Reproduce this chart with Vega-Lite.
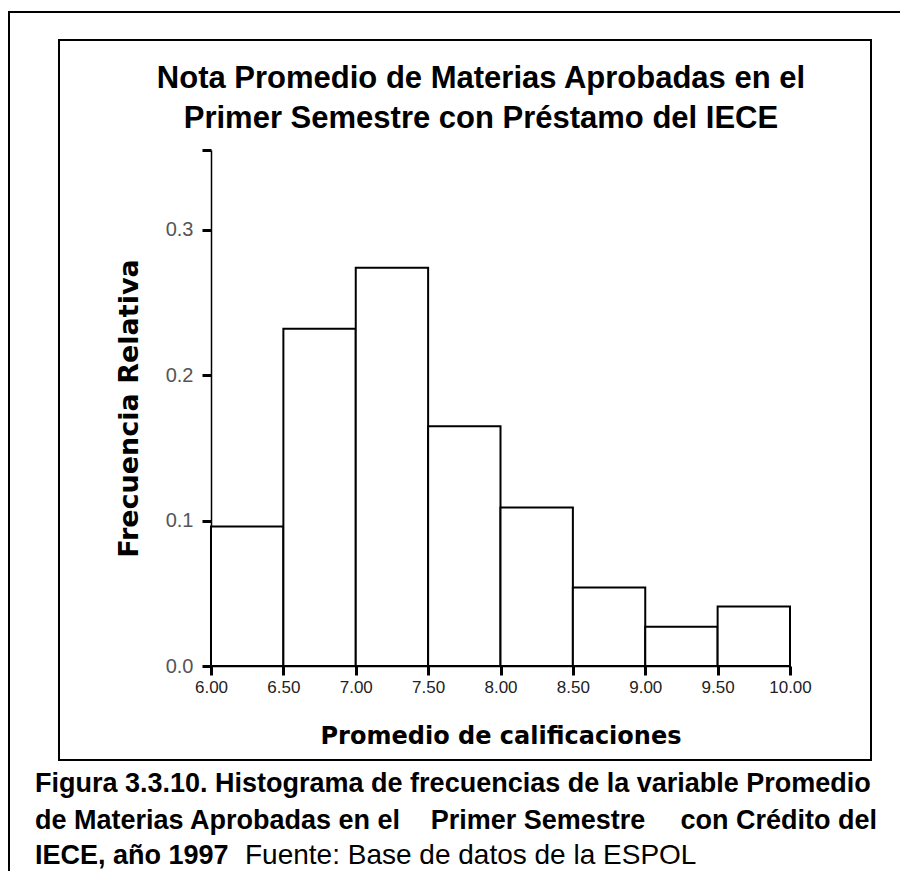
{
  "$schema": "https://vega.github.io/schema/vega-lite/v6.json",
  "width": 579,
  "height": 516,
  "autosize": {"type": "none"},
  "padding": {"left": 211, "top": 150, "right": 110, "bottom": 205},
  "background": "white",
  "config": {"view": {"stroke": null}, "font": "Liberation Sans"},
  "layer": [
    {
      "data": {"values": [{"frame": "outer"}]},
      "mark": {"type": "rect", "fill": null, "stroke": "black", "strokeWidth": 2},
      "encoding": {
        "x": {"datum": 4.6045, "type": "quantitative", "scale": {"domain": [6, 10], "nice": false, "zero": false}},
        "x2": {"datum": 14},
        "y": {"datum": 0.45, "type": "quantitative", "scale": {"domain": [0, 0.355], "nice": false, "zero": false}},
        "y2": {"datum": -0.6}
      }
    },
    {
      "data": {"values": [{"frame": "inner"}]},
      "mark": {"type": "rect", "fill": null, "stroke": "black", "strokeWidth": 2},
      "encoding": {
        "x": {"datum": 4.9499, "type": "quantitative"},
        "x2": {"datum": 10.5596},
        "y": {"datum": 0.4307, "type": "quantitative"},
        "y2": {"datum": -0.0647}
      }
    },
    {
      "data": {"values": [{"title": "Nota Promedio de Materias Aprobadas en el"}]},
      "mark": {"type": "text", "align": "center", "baseline": "alphabetic", "font": "Liberation Sans", "fontSize": 31, "fontWeight": "bold", "color": "black"},
      "encoding": {"text": {"field": "title"}, "x": {"datum": 7.865, "type": "quantitative"}, "y": {"datum": 0.3977, "type": "quantitative"}}
    },
    {
      "data": {"values": [{"title": "Primer Semestre con Préstamo del IECE"}]},
      "mark": {"type": "text", "align": "center", "baseline": "alphabetic", "font": "Liberation Sans", "fontSize": 31, "fontWeight": "bold", "color": "black"},
      "encoding": {"text": {"field": "title"}, "x": {"datum": 7.865, "type": "quantitative"}, "y": {"datum": 0.3701, "type": "quantitative"}}
    },
    {
      "data": {
        "values": [
          {"start": 6.0, "end": 6.5, "freq": 0.096},
          {"start": 6.5, "end": 7.0, "freq": 0.232},
          {"start": 7.0, "end": 7.5, "freq": 0.274},
          {"start": 7.5, "end": 8.0, "freq": 0.165},
          {"start": 8.0, "end": 8.5, "freq": 0.109},
          {"start": 8.5, "end": 9.0, "freq": 0.054},
          {"start": 9.0, "end": 9.5, "freq": 0.027},
          {"start": 9.5, "end": 10.0, "freq": 0.041}
        ]
      },
      "mark": {"type": "rect", "fill": "white", "stroke": "black", "strokeWidth": 2},
      "encoding": {
        "x": {
          "field": "start",
          "type": "quantitative",
          "axis": {
            "values": [6, 6.5, 7, 7.5, 8, 8.5, 9, 9.5, 10],
            "format": ".2f",
            "grid": false,
            "domainColor": "black",
            "domainWidth": 1.5,
            "tickColor": "black",
            "tickWidth": 3,
            "tickSize": 9,
            "labelFont": "Liberation Sans",
            "labelFontSize": 17,
            "labelColor": "#222",
            "labelPadding": 4,
            "labelFlush": false,
            "title": "Promedio de calificaciones",
            "titleFont": "DejaVu Sans",
            "titleFontSize": 24,
            "titleFontWeight": "bold",
            "titleColor": "black",
            "titlePadding": 29
          }
        },
        "x2": {"field": "end"},
        "y": {
          "field": "freq",
          "type": "quantitative",
          "axis": {
            "values": [0, 0.1, 0.2, 0.3, 0.355],
            "labelExpr": "datum.value > 0.31 ? '' : format(datum.value, '.1f')",
            "grid": false,
            "domainColor": "black",
            "domainWidth": 1.5,
            "tickColor": "black",
            "tickWidth": 3,
            "tickSize": 9,
            "labelFont": "Liberation Sans",
            "labelFontSize": 20,
            "labelColor": "#555",
            "labelPadding": 9,
            "labelFlush": false,
            "title": "Frecuencia Relativa",
            "titleFont": "DejaVu Sans",
            "titleFontSize": 27,
            "titleFontWeight": "bold",
            "titleColor": "black",
            "titlePadding": 22
          }
        },
        "y2": {"datum": 0}
      }
    },
    {
      "data": {"values": [{"caption": "Figura 3.3.10. Histograma de frecuencias de la variable Promedio"}]},
      "mark": {"type": "text", "align": "left", "baseline": "alphabetic", "font": "Liberation Sans", "fontSize": 27, "fontWeight": "bold", "color": "black"},
      "encoding": {"text": {"field": "caption"}, "x": {"datum": 4.7841, "type": "quantitative"}, "y": {"datum": -0.0867, "type": "quantitative"}}
    },
    {
      "data": {"values": [{"caption": "de Materias Aprobadas en el"}]},
      "mark": {"type": "text", "align": "left", "baseline": "alphabetic", "font": "Liberation Sans", "fontSize": 27, "fontWeight": "bold", "color": "black"},
      "encoding": {"text": {"field": "caption"}, "x": {"datum": 4.7841, "type": "quantitative"}, "y": {"datum": -0.1122, "type": "quantitative"}}
    },
    {
      "data": {"values": [{"caption": "Primer Semestre"}]},
      "mark": {"type": "text", "align": "center", "baseline": "alphabetic", "font": "Liberation Sans", "fontSize": 27, "fontWeight": "bold", "color": "black"},
      "encoding": {"text": {"field": "caption"}, "x": {"datum": 8.259, "type": "quantitative"}, "y": {"datum": -0.1122, "type": "quantitative"}}
    },
    {
      "data": {"values": [{"caption": "con Crédito del"}]},
      "mark": {"type": "text", "align": "right", "baseline": "alphabetic", "font": "Liberation Sans", "fontSize": 27, "fontWeight": "bold", "color": "black"},
      "encoding": {"text": {"field": "caption"}, "x": {"datum": 10.601, "type": "quantitative"}, "y": {"datum": -0.1122, "type": "quantitative"}}
    },
    {
      "data": {"values": [{"caption": "IECE, año 1997"}]},
      "mark": {"type": "text", "align": "left", "baseline": "alphabetic", "font": "Liberation Sans", "fontSize": 27, "fontWeight": "bold", "color": "black"},
      "encoding": {"text": {"field": "caption"}, "x": {"datum": 4.7841, "type": "quantitative"}, "y": {"datum": -0.1362, "type": "quantitative"}}
    },
    {
      "data": {"values": [{"caption": "Fuente: Base de datos de la ESPOL"}]},
      "mark": {"type": "text", "align": "left", "baseline": "alphabetic", "font": "Liberation Sans", "fontSize": 28, "fontWeight": "normal", "color": "black"},
      "encoding": {"text": {"field": "caption"}, "x": {"datum": 6.235, "type": "quantitative"}, "y": {"datum": -0.1362, "type": "quantitative"}}
    }
  ]
}
